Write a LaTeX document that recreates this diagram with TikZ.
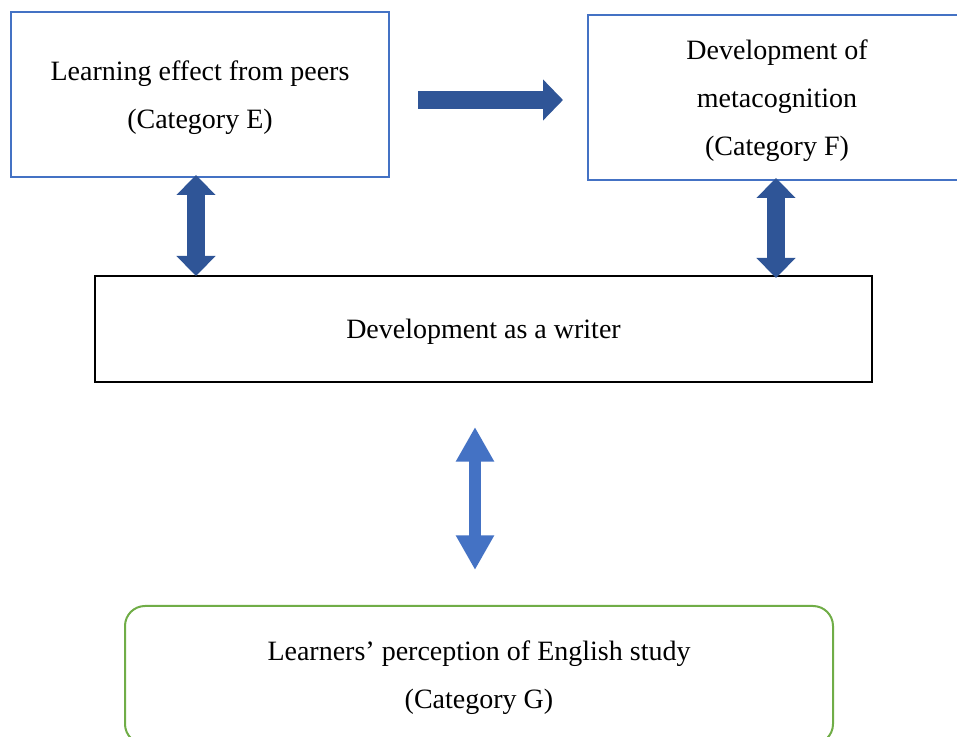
\documentclass[tikz,border=0pt]{standalone}
\usepackage{fontspec}
\setmainfont{Liberation Serif}
\usetikzlibrary{arrows.meta}
\definecolor{boxblue}{HTML}{4472C4}
\definecolor{arrowdark}{HTML}{2F5597}
\definecolor{boxgreen}{HTML}{70AD47}
\begin{document}
\begin{tikzpicture}[x=0.75pt,y=-0.75pt,
  box/.style={draw, line width=1.5pt, inner sep=0pt, align=center,
    text depth=-1.5pt, font=\fontsize{21}{36}\selectfont},
  bluebox/.style={box, draw=boxblue, minimum width=283.5pt, minimum height=123.75pt},
  blackbox/.style={box, draw=black, minimum width=582.75pt, minimum height=79.5pt},
  greenbox/.style={box, draw=boxgreen, rounded corners=15pt, minimum width=531pt, minimum height=103.5pt},
  darkarrow/.style={draw=arrowdark, line width=13.5pt,
    -{Triangle[width=30pt,length=15pt]}},
  darkdouble/.style={draw=arrowdark, line width=13.5pt,
    {Triangle[width=28.5pt,length=15pt]}-{Triangle[width=28.5pt,length=15pt]}},
  lightdouble/.style={draw=boxblue, line width=9pt,
    {Triangle[width=27pt,length=26pt]}-{Triangle[width=27pt,length=26pt]}}
]
\useasboundingbox (0,0) rectangle (957,737);
\node[bluebox] (E) at (200,94.5) {Learning effect from peers\\(Category E)};
\node[bluebox] (F) at (777,97.5) {Development of\\metacognition\\(Category F)};
\node[blackbox] (W) at (483.5,329) {Development as a writer};
\node[greenbox] (G) at (479,675) {Learners’ perception of English study\\(Category G)};
\coordinate (ra1) at (418,100);
\coordinate (ra2) at (563,100);
\coordinate (la1) at (196,175);
\coordinate (la2) at (196,276);
\coordinate (rb1) at (776,178);
\coordinate (rb2) at (776,278);
\coordinate (ma1) at (475,427);
\coordinate (ma2) at (475,570);
\draw[darkarrow] (ra1) -- (ra2);
\draw[darkdouble] (la1) -- (la2);
\draw[darkdouble] (rb1) -- (rb2);
\draw[lightdouble] (ma1) -- (ma2);
\end{tikzpicture}
\end{document}
